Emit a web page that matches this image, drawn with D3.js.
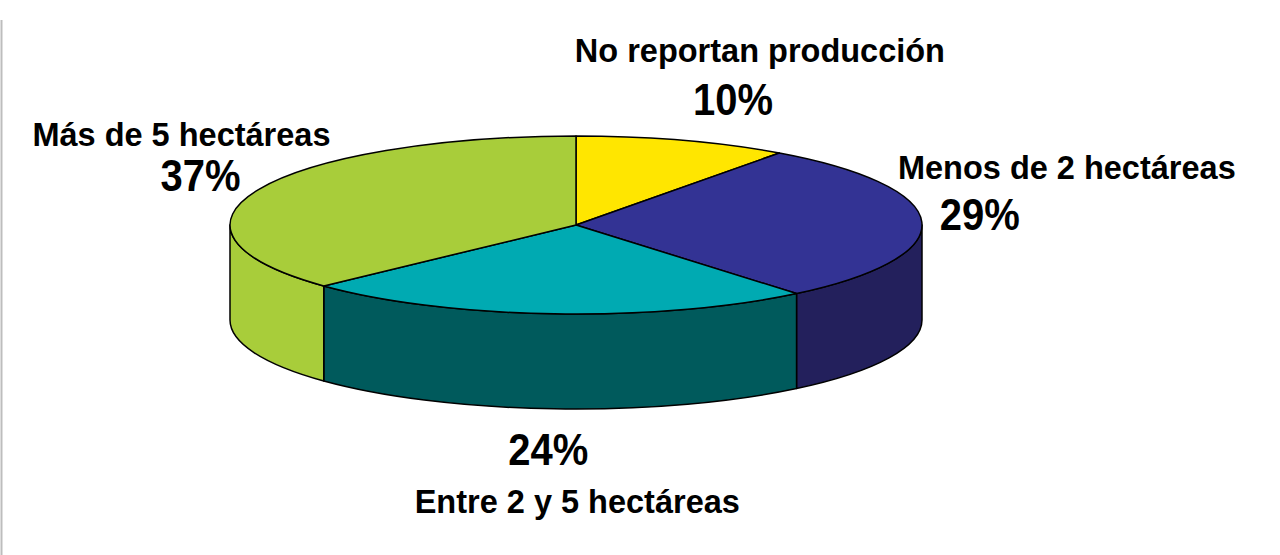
<!DOCTYPE html>
<html>
<head>
<meta charset="utf-8">
<script src="https://cdn.jsdelivr.net/npm/d3@7"></script>
<style>
  body { margin: 0; background: #fff; }
  svg { display: block; }
  text { font-family: "Liberation Sans", Arial, sans-serif; font-weight: bold; fill: #000; }
</style>
</head>
<body>
<svg id="chart" width="1280" height="555"></svg>
<script>
// Slice data, clockwise from 12 o'clock
var categories = ["No reportan producción", "Menos de 2 hectáreas", "Entre 2 y 5 hectáreas", "Más de 5 hectáreas"];
var values = [10, 29, 24, 37];
var topColors = ["#ffe600", "#333394", "#00aab2", "#a8cd3a"];
var sideColors = ["#b8a600", "#23205c", "#005a5c", "#a8cd3a"];

// Ellipse geometry
var cx = 576, cy = 225, rx = 346, ry = 89, depth = 95;

var svg = d3.select("#chart");

// thin grey frame line at the left edge
svg.append("line")
    .attr("x1", 1.5).attr("x2", 1.5)
    .attr("y1", 20).attr("y2", 555)
    .attr("stroke", "#bdbdbd")
    .attr("stroke-width", 2);

var pie = d3.pie().sort(null).value(function(d) { return d.value; });
var slices = pie(values.map(function(v, i) {
    return {value: v, name: categories[i], top: topColors[i], side: sideColors[i]};
}));

// point on the ellipse for an angle measured clockwise from the top
function pt(a, dy) {
    return [cx + rx * Math.sin(a), cy - ry * Math.cos(a) + (dy || 0)];
}

// Side walls: only the front half (pi/2 .. 3pi/2) is visible
var front0 = Math.PI / 2, front1 = 3 * Math.PI / 2;
var sides = slices.map(function(d) {
    var s0 = Math.max(d.startAngle, front0), s1 = Math.min(d.endAngle, front1);
    return {d: d, s0: s0, s1: s1};
}).filter(function(s) { return s.s1 > s.s0; });

svg.selectAll(".side")
    .data(sides)
    .join("path")
    .attr("class", "side")
    .attr("fill", function(s) { return s.d.data.side; })
    .attr("stroke", "#000")
    .attr("stroke-width", 1.5)
    .attr("stroke-linejoin", "round")
    .attr("d", function(s) {
        var a = pt(s.s0), b = pt(s.s1), c = pt(s.s1, depth), e = pt(s.s0, depth);
        return "M" + a + "A" + rx + "," + ry + " 0 0 1 " + b +
            "L" + c + "A" + rx + "," + ry + " 0 0 0 " + e + "Z";
    });

// Top faces
svg.selectAll(".slice")
    .data(slices)
    .join("path")
    .attr("class", "slice")
    .attr("fill", function(d) { return d.data.top; })
    .attr("stroke", "#000")
    .attr("stroke-width", 1.5)
    .attr("stroke-linejoin", "round")
    .attr("d", function(d) {
        var a = pt(d.startAngle), b = pt(d.endAngle);
        var large = (d.endAngle - d.startAngle) > Math.PI ? 1 : 0;
        return "M" + cx + "," + cy + "L" + a + "A" + rx + "," + ry + " 0 " + large + " 1 " + b + "Z";
    });

// Label offsets from the mid-angle point on the rim: [pct dx, pct dy, name dx, name dy]
var labelOffsets = [
    [50, -25, 77, -78],
    [58, 8, 145, -43],
    [-6, 151, 23, 199],
    [-58, 1, -77, -44]
];

var labels = svg.selectAll(".label")
    .data(slices)
    .join("g")
    .attr("class", "label");

labels.append("text")
    .attr("text-anchor", "middle")
    .attr("font-size", 32.5)
    .attr("x", function(d, i) { return pt((d.startAngle + d.endAngle) / 2)[0] + labelOffsets[i][2]; })
    .attr("y", function(d, i) { return pt((d.startAngle + d.endAngle) / 2)[1] + labelOffsets[i][3]; })
    .text(function(d) { return d.data.name; });

labels.append("text")
    .attr("text-anchor", "middle")
    .attr("font-size", 40)
    .attr("transform", function(d, i) {
        var p = pt((d.startAngle + d.endAngle) / 2);
        return "translate(" + (p[0] + labelOffsets[i][0]) + "," + (p[1] + labelOffsets[i][1]) + ") scale(1,1.12)";
    })
    .text(function(d) { return d.data.value + "%"; });
</script>
</body>
</html>
